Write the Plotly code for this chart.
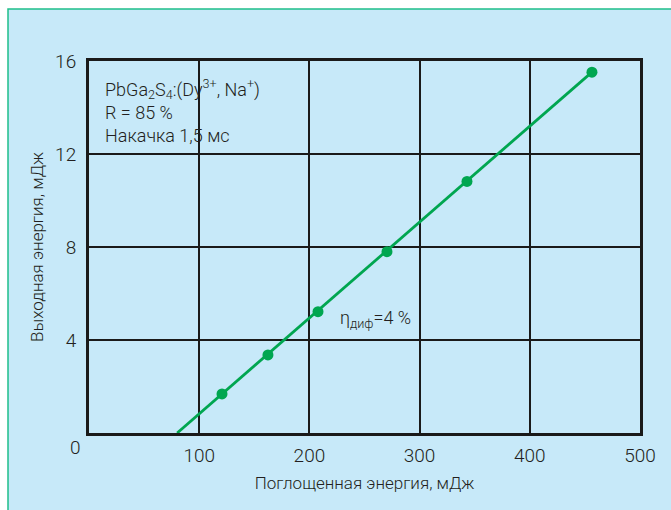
import plotly.graph_objects as go

# Measured points: absorbed pump energy vs. laser output energy
absorbed_mj = [120.7, 162.4, 207.8, 270.4, 343.0, 456.4]
output_mj = [1.68, 3.36, 5.22, 7.80, 10.82, 15.52]

# Linear fit (slope efficiency ~4 %), from threshold to last point
fit_x = [80.0, 456.4]
fit_y = [0.0, 15.52]

x_ticks = [100, 200, 300, 400, 500]
y_ticks = [4, 8, 12, 16]

GREEN = "#00a650"
TEXT = "#231f20"
FONT = "Roboto"

fig = go.Figure()
fig.add_trace(go.Scatter(x=fit_x, y=fit_y, mode="lines",
                         line=dict(color=GREEN, width=2.8), hoverinfo="skip"))
fig.add_trace(go.Scatter(x=absorbed_mj, y=output_mj, mode="markers",
                         marker=dict(color=GREEN, size=11)))

axis_common = dict(showgrid=True, gridcolor="#1a1a1a", gridwidth=1.5,
                   showline=True, linecolor="#1a1a1a", linewidth=3, mirror=True,
                   zeroline=False, ticks="",
                   tickfont=dict(family=FONT, size=19, color=TEXT, weight=300))

fig.update_layout(
    width=671, height=510,
    margin=dict(l=89, r=31, t=61, b=77),
    paper_bgcolor="white",
    plot_bgcolor="#fffad7",
    showlegend=False,
    font=dict(family=FONT, color=TEXT),
    xaxis=dict(range=[0, 500], tickvals=x_ticks, ticklabelstandoff=3,
               title=dict(text="Поглощенная энергия, мДж",
                          font=dict(family=FONT, size=17, color=TEXT, weight=300), standoff=12),
               **axis_common),
    yaxis=dict(range=[0, 16], tickvals=y_ticks, ticklabelstandoff=6,
               title=dict(text="Выходная энергия, мДж",
                          font=dict(family=FONT, size=17, color=TEXT, weight=300), standoff=8),
               **axis_common),
    shapes=[dict(type="rect", xref="paper", yref="paper", layer="below",
                 x0=-81/551, x1=1.2, y0=-0.3, y1=1 + 52/372,
                 fillcolor="#c7e9f9", line=dict(color="#1fbf8a", width=1.5))],
    annotations=[
        dict(text="0", xref="paper", yref="paper", x=-14/551, y=-14/372,
             showarrow=False, font=dict(family=FONT, size=19, color=TEXT, weight=300),
             xanchor="center", yanchor="middle"),
        dict(text="PbGa<sub>2</sub>S<sub>4</sub>:(Dy<sup>3+</sup>, Na<sup>+</sup>)<br>R = 85 %<br>Накачка 1,5 мс",
             xref="x", yref="y", x=13, y=15.45, showarrow=False, align="left",
             xanchor="left", yanchor="top",
             font=dict(family=FONT, size=18, color=TEXT, weight=300)),
        dict(text="η<sub>диф</sub>=4 %", xref="x", yref="y", x=226, y=4.9,
             showarrow=False, xanchor="left", yanchor="middle",
             font=dict(family=FONT, size=18, color=TEXT, weight=300)),
    ],
)

fig.write_html("out.html")
